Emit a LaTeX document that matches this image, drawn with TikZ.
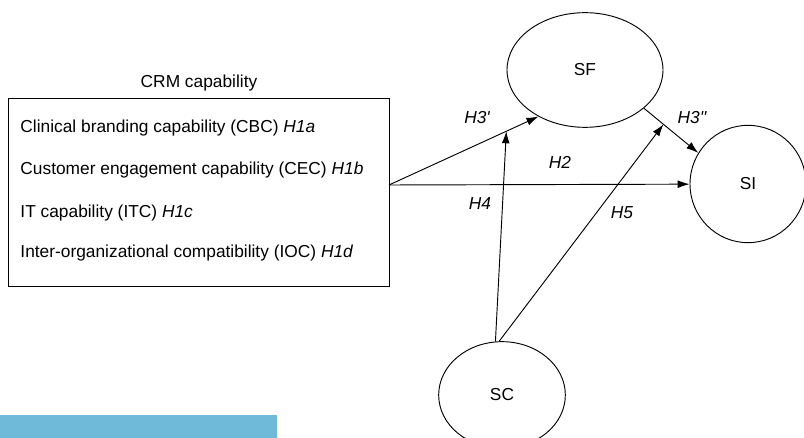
\documentclass[tikz,border=0pt]{standalone}
\usepackage{fontspec}
\setmainfont{Liberation Sans}
\usetikzlibrary{arrows.meta,shapes.geometric,calc}
\definecolor{barblue}{HTML}{6FB9D9}
\begin{document}
\begin{tikzpicture}[x=0.75pt,y=-0.75pt,line width=0.7pt,
    every node/.style={font=\fontsize{13}{15}\selectfont},
    hyp/.style={font=\fontsize{13}{15}\selectfont\itshape},
    item/.style={anchor=west,inner sep=0pt},
    construct/.style={draw,ellipse,inner sep=0pt}]
  \useasboundingbox (0,0) rectangle (804,438);
  \fill[barblue] (0,415) rectangle (277,438);
  \draw
    (199,83) node (title){CRM capability}
    (198.5,192) node[draw,minimum width=285.75pt,minimum height=141pt,inner sep=0pt] (crm){}
    (20,128) node[item] (cbc){Clinical branding capability (CBC) \textit{H1a}}
    (20,170) node[item] (cec){Customer engagement capability (CEC) \textit{H1b}}
    (20,213) node[item] (itc){IT capability (ITC) \textit{H1c}}
    (20,253) node[item] (ioc){Inter-organizational compatibility (IOC) \textit{H1d}}
    (585,70) node[construct,minimum width=117pt,minimum height=86pt] (sf){SF}
    (748,184) node[construct,minimum width=87pt,minimum height=88pt] (si){SI}
    (502,395) node[construct,minimum width=95pt,minimum height=80pt] (sc){SC};
  \coordinate (out) at (389,185);
  \coordinate (h4end) at ($(out)!0.785!(sf.225)$);
  \path (sf.-33) -- (si.148) coordinate[pos=0.36] (h5end);
  \begin{scope}[-{Latex[length=9pt,width=6pt]}]
    \draw (out) to (sf.225);
    \draw (out) to (si);
    \draw (sf.-33) to (si.148);
    \draw (sc.97) to (h4end);
    \draw (sc.93) to (h5end);
  \end{scope}
  \draw
    (477,118) node[hyp] (h3a){H3\textquotesingle}
    (692,118) node[hyp] (h3b){H3\textquotesingle\textquotesingle}
    (560,162) node[hyp] (h2){H2}
    (480,204) node[hyp] (h4){H4}
    (622,213) node[hyp] (h5){H5};
\end{tikzpicture}
\end{document}
